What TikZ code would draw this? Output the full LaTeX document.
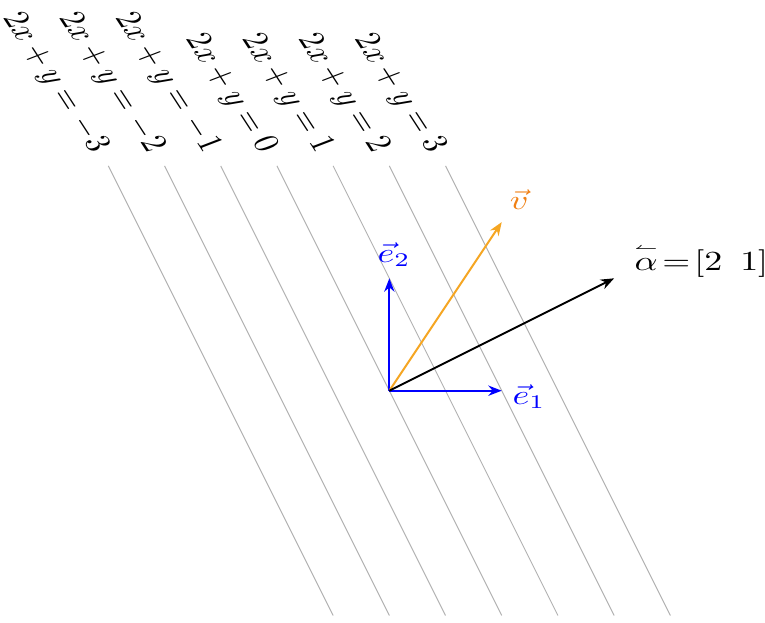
\documentclass[tikz,border=0pt]{standalone}
\usepackage{amsmath}
\usetikzlibrary{arrows.meta}
\definecolor{vorange}{RGB}{245,166,35}
\definecolor{vlabel}{RGB}{240,128,20}
\tikzset{
  levelline/.style={draw=gray!60, line width=0.25pt},
  vecarrow/.style={line width=0.5pt, -{Stealth[length=3.4pt,width=2.6pt]}},
  levellabel/.style={cm={0.4070,-0.6261,0.8139,0.3130,(0,0)}, anchor=east, inner sep=5.7pt},
  veclabel/.style={xscale=0.91, yscale=0.7, anchor=base west, inner sep=0pt},
}
\begin{document}
\begin{tikzpicture}[x=1cm,y=1cm]
\useasboundingbox (-3.464,-2.058) rectangle (3.342,3.476);
\foreach \c/\lab in {-3/{\mkern1mu{-}\mkern1mu3},-2/{\mkern1mu{-}\mkern1mu2},-1/{\mkern1mu{-}\mkern1mu1},0/0,1/1,2/2,3/3}{
  \coordinate (b\c) at ({(\c+2)/2},-2);
  \coordinate (t\c) at ({(\c-2)/2},2);
  \draw[levelline] (b\c) -- (t\c);
  \node[levellabel] (l\c) at (t\c) {$2x+y=\lab$};
}
\coordinate (O) at (0,0);
\coordinate (E1) at (1,0);
\coordinate (E2) at (0,1);
\coordinate (V) at (1,1.5);
\coordinate (A) at (2,1);
\draw[vecarrow, blue] (O) -- (E1);
\draw[vecarrow, blue] (O) -- (E2);
\draw[vecarrow, vorange] (O) -- (V);
\draw[vecarrow, black] (O) -- (A);
\node[veclabel, text=blue] (le1) at ([shift={(0.09,-0.12)}]E1) {$\vec{e}_1$};
\node[veclabel, text=blue] (le2) at ([shift={(-0.11,0.145)}]E2) {$\vec{e}_2$};
\node[veclabel, text=vlabel] (lv) at ([shift={(0.065,0.11)}]V) {$\vec{v}$};
\node[veclabel] (la) at ([shift={(0.17,0.07)}]A) {$\overset{\scriptscriptstyle\leftharpoonup}{\alpha}\mkern2mu{=}\mkern2mu[2\mkern9mu 1]$};
\end{tikzpicture}
\end{document}
